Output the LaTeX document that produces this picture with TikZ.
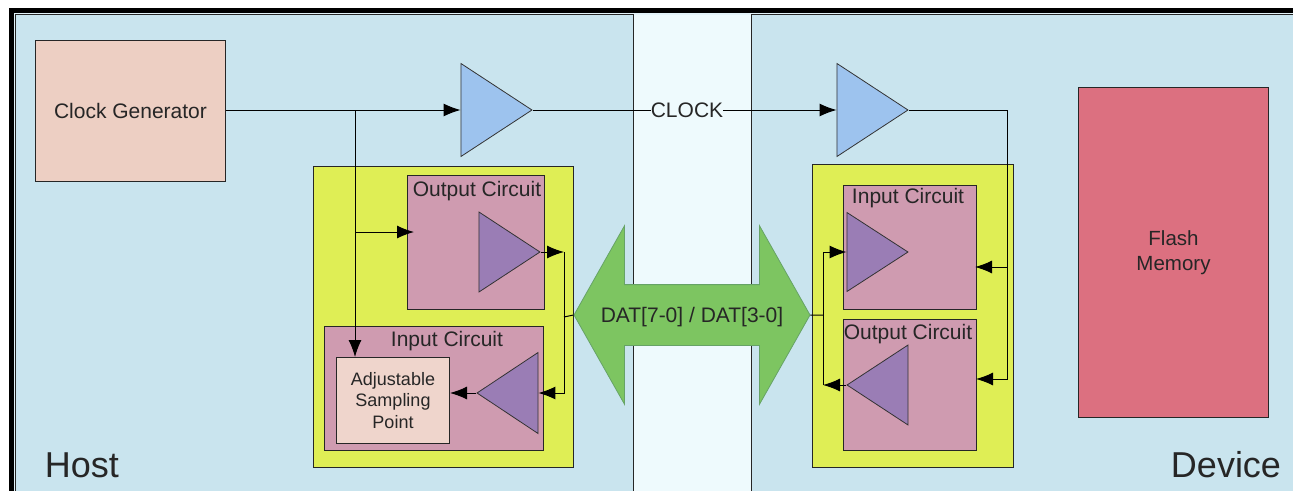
\documentclass[tikz,border=0pt]{standalone}
\usepackage{fontspec}
\setmainfont{Liberation Sans}
\usetikzlibrary{arrows.meta}
\usetikzlibrary{shapes.geometric}
\usetikzlibrary{shapes.arrows}
\definecolor{panelblue}{HTML}{C9E4EE}
\definecolor{bandblue}{HTML}{EEFAFD}
\definecolor{clockpink}{HTML}{EDCFC3}
\definecolor{bufblue}{HTML}{9DC3EE}
\definecolor{ioyellow}{HTML}{DFEE55}
\definecolor{circpink}{HTML}{CF9BB0}
\definecolor{trivio}{HTML}{9A7DB5}
\definecolor{samplepink}{HTML}{EFD5CC}
\definecolor{flashred}{HTML}{DC7080}
\definecolor{datgreen}{HTML}{7DC561}
\tikzset{
    box/.style={draw=black!85,line width=1pt,anchor=north west,inner sep=0pt,align=center},
    sz/.style 2 args={minimum width=#1pt,minimum height=#2pt},
    buf/.style={draw=black!80,line width=0.8pt,isosceles triangle,isosceles triangle stretches,
        inner sep=0pt,minimum width=93pt,minimum height=71pt},
    lbl/.style={font=\fontsize{21}{25}\selectfont,text=black!85,inner sep=1pt},
    small/.style={font=\fontsize{18}{21.5}\selectfont,text=black!85},
    big/.style={font=\fontsize{36}{40}\selectfont,text=black!85,inner sep=0pt},
    wire/.style={line width=1pt,>={Latex[length=17pt,width=13pt]}}
}
\begin{document}
\begin{tikzpicture}[x=1pt,y=-1pt]
        \clip (0,0) rectangle (1293,490);
        \useasboundingbox (0,0) rectangle (1293,490);

        % frame and panels
        \node[box,sz={1300}{500},draw=black,line width=5pt,fill=bandblue!70!panelblue] (frame) at (8.5,7.5) {};
        \node[box,sz={118}{480},draw=none,fill=bandblue] (band) at (633,14) {};
        \node[box,sz={618}{480},fill=panelblue] (host) at (15,14) {};
        \node[box,sz={560}{480},fill=panelblue] (device) at (751,14) {};
        \node[big,anchor=center] (hostlbl) at (82,465) {Host};
        \node[big,anchor=center] (devlbl) at (1226,465) {Device};

        \node[box,sz={190}{141},fill=clockpink,lbl] (clkgen) at (35,40) {Clock Generator};
        \node[box,sz={190}{330},fill=flashred,lbl,font=\fontsize{20.5}{25}\selectfont] (flash) at (1078,87) {Flash\\Memory};

        \node[buf,fill=bufblue,anchor=apex] (hostbuf) at (533,110) {};
        \node[buf,fill=bufblue,anchor=apex] (devbuf) at (909,110) {};

        % host side
        \node[box,sz={260}{301},fill=ioyellow] (hostio) at (313,166) {};
        \node[box,sz={137}{134},fill=circpink] (hostout) at (407,175) {};
        \node[box,sz={219}{124},fill=circpink] (hostin) at (324,326) {};
        \node[box,sz={113}{86},fill=samplepink,small] (sample) at (336,357) {Adjustable\\Sampling\\Point};
        \node[lbl] (hostoutlbl) at (477,191) {Output Circuit};
        \node[lbl] (hostinlbl) at (447,341) {Input Circuit};
        \node[buf,fill=trivio,minimum width=80pt,minimum height=61pt,anchor=apex] (hostouttri) at (541,252) {};
        \node[buf,fill=trivio,minimum width=81pt,minimum height=61pt,anchor=apex,shape border rotate=180] (hostintri) at (476,393) {};

        % device side
        \node[box,sz={201}{303},fill=ioyellow] (devio) at (812,164) {};
        \node[box,sz={133}{124},fill=circpink] (devin) at (843,185) {};
        \node[box,sz={133}{131},fill=circpink] (devout) at (843,319) {};
        \node[lbl] (devinlbl) at (908,198) {Input Circuit};
        \node[lbl] (devoutlbl) at (908,334) {Output Circuit};
        \node[buf,fill=trivio,minimum width=79pt,minimum height=61pt,anchor=apex] (devintri) at (909,252) {};
        \node[buf,fill=trivio,minimum width=80pt,minimum height=61pt,anchor=apex,shape border rotate=180] (devouttri) at (846,385) {};

        % data arrow
        \node[double arrow,draw=black!60!green!60,line width=0.8pt,fill=datgreen,lbl,
            minimum width=178pt,minimum height=236pt,inner xsep=0pt,inner ysep=22pt,text height=15pt,text depth=1pt,
            double arrow head extend=59pt,double arrow tip angle=121] (dat) at (692,315) {DAT[7-0] / DAT[3-0]};

        \node[lbl,fill=bandblue,inner sep=0pt] (clock) at (687,110) {CLOCK};

        % clock wires
        \coordinate (tap) at (355,110);
        \coordinate (tapout) at (355,232);
        \coordinate (outin) at (414,232);
        \draw[wire,->] (clkgen.east |- tap) -- (hostbuf.lower side);
        \draw[wire,->] (tap) -- (tap |- sample.north);
        \draw[wire,->] (tapout) -- (outin);
        \draw[wire] (hostbuf.apex) -- (clock);
        \draw[wire,->] (clock) -- (devbuf.lower side);

        \coordinate (devbend) at (1007,110);
        \coordinate (devtap) at (1007,267);
        \coordinate (devtap2) at (1007,379);
        \draw[wire,->] (devbuf.apex) -- (devbend) -- (devtap2) -- (976,379);
        \draw[wire,->] (devtap) -- (975,267);

        % host data wires
        \coordinate (hostrail) at (564,317);
        \draw[wire] (dat.west) -- (hostrail);
        \draw[wire,->] (hostouttri.apex) -- (hostrail |- hostouttri.apex);
        \draw[wire,->] (hostrail |- hostouttri.apex) -- (hostrail |- hostintri.lower side) -- (hostintri.lower side);
        \draw[wire,->] (hostintri.apex) -- (sample.east |- hostintri.apex);

        % device data wires
        \coordinate (devrail) at (823,315);
        \draw[wire] (dat.east) -- (devrail);
        \draw[wire,->] (devrail) -- (devrail |- devintri.lower side) -- (devintri.lower side);
        \draw[wire] (devrail) -- (devrail |- devouttri.apex);
        \draw[wire,->] (devouttri.apex) -- (devrail |- devouttri.apex);
\end{tikzpicture}
\end{document}
